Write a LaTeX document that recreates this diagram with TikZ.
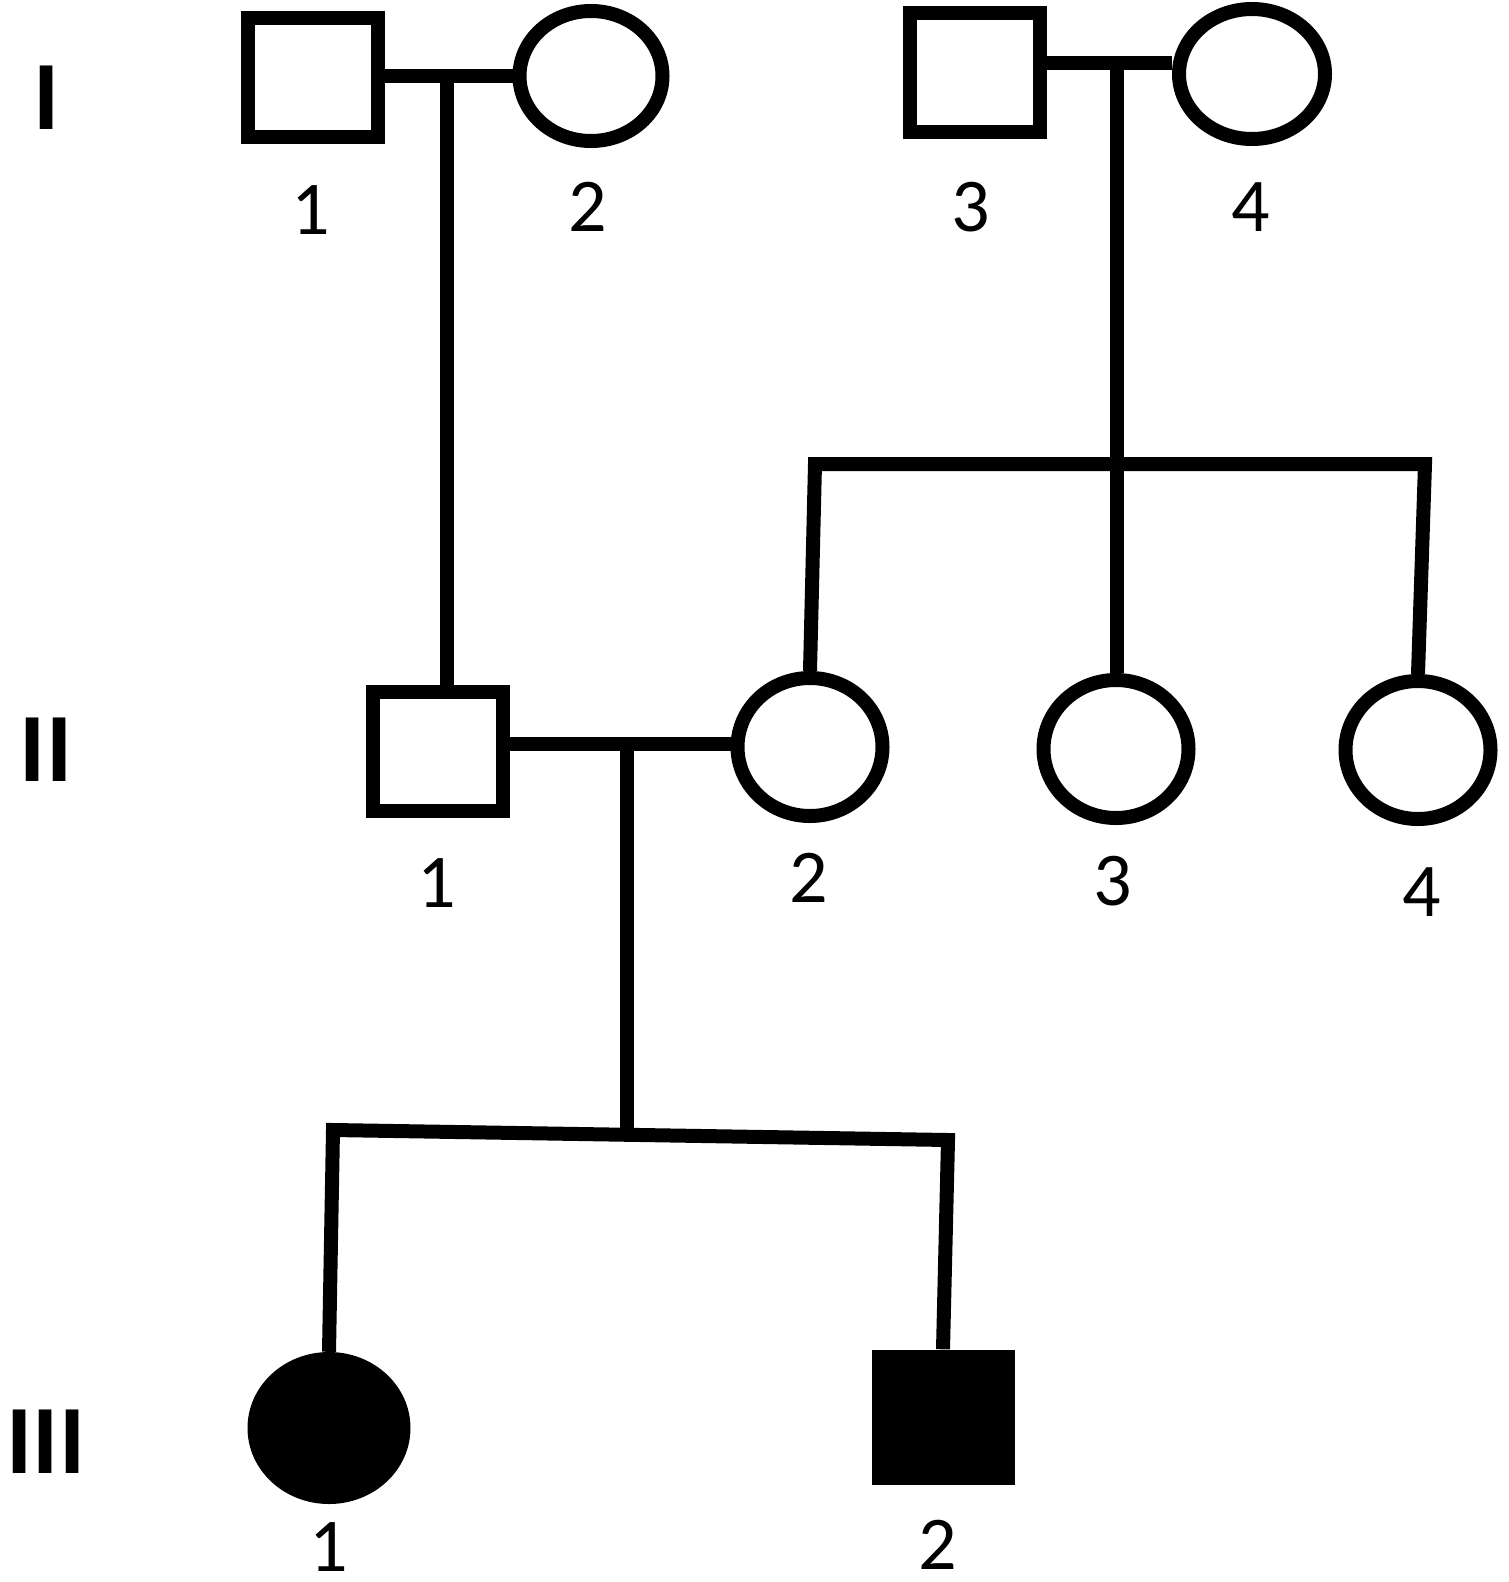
\documentclass[tikz,border=0pt]{standalone}
\usepackage{fontspec}
\setmainfont{Carlito}
\usetikzlibrary{shapes.geometric}
\begin{document}
\begin{tikzpicture}[x=1pt,y=-1pt,
  lw/.style={line width=14pt},
  male/.style={draw,lw,rectangle,inner sep=0pt,minimum width=130pt,minimum height=119pt},
  female/.style={draw,lw,ellipse,inner sep=0pt,minimum width=144pt,minimum height=132pt},
  aff/.style={fill=black},
  num/.style={font=\fontsize{76}{80}\selectfont,inner sep=0pt},
  gen/.style={font=\bfseries\fontsize{98}{100}\selectfont,inner sep=0pt},
  conn/.style={line width=14pt,line join=miter}]
\useasboundingbox (0,0) rectangle (1508,1582);
\fill[white] (0,0) rectangle (1508,1582);

% generation labels
\node[gen] (gI) at (47,98) {I};
\node[gen] (gII) at (46,750) {II};
\node[gen] (gIII) at (46,1442) {III};

% generation I
\node[male] (I1) at (313,77) {};
\node[female,minimum width=143pt,minimum height=130pt] (I2) at (591,76) {};
\node[male] (I3) at (975,72) {};
\node[female,minimum width=146pt,minimum height=130pt] (I4) at (1252,74) {};

% generation II
\node[male] (II1) at (438,751) {};
\node[female,minimum width=145pt,minimum height=138pt] (II2) at (810,747) {};
\node[female,minimum width=145pt,minimum height=138pt] (II3) at (1116,749) {};
\node[female,minimum width=145pt,minimum height=138pt] (II4) at (1418,750) {};

% generation III
\node[ellipse,aff,inner sep=0pt,minimum width=163pt,minimum height=152pt] (III1) at (329,1428) {};
\node[rectangle,aff,inner sep=0pt,minimum width=143pt,minimum height=135pt] (III2) at (943,1417) {};

% coordinates
\coordinate (m1) at (447,76);
\coordinate (m2) at (1117,63);
\coordinate (s2a) at (815,464);
\coordinate (s2b) at (1425,464);
\coordinate (m3) at (627,744);
\coordinate (d3) at (627,1135);
\coordinate (s3a) at (333,1130);
\coordinate (s3b) at (948,1140);

% connectors
\draw[conn] (I1.east |- m1) -- (I2.west |- m1);
\draw[conn] (m1) -- (m1 |- II1.north);
\draw[conn] (I3.east |- m2) -- (I4.west |- m2);
\draw[conn] (m2) -- (m2 |- II3.north);
\draw[conn] (II2.north) -- (s2a) -- (s2b) -- (II4.north);
\draw[conn] (II1.east |- m3) -- (II2.west |- m3);
\draw[conn] (m3) -- (d3);
\draw[conn] (III1.north) -- (s3a) -- (s3b) -- (III2.north);

% individual numbers
\node[num] (nI1) at (311,210) {1};
\node[num] (nI2) at (588,207) {2};
\node[num] (nI3) at (971,207) {3};
\node[num] (nI4) at (1251,207) {4};
\node[num] (nII1) at (437,883) {1};
\node[num] (nII2) at (809,878) {2};
\node[num] (nII3) at (1113,881) {3};
\node[num] (nII4) at (1422,892) {4};
\node[num] (nIII1) at (329,1547) {1};
\node[num] (nIII2) at (938,1545) {2};
\end{tikzpicture}
\end{document}
